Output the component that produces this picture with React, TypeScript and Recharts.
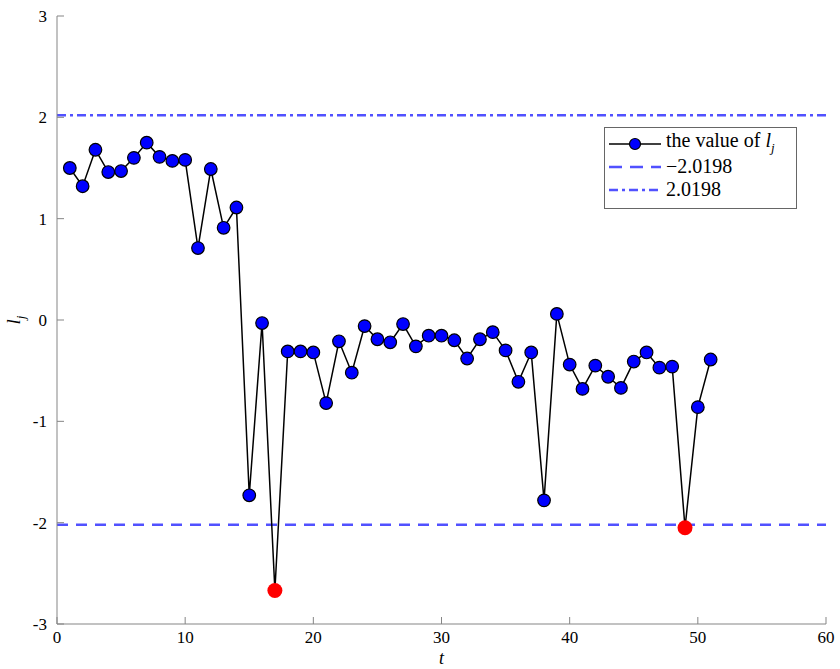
import {
  ComposedChart,
  Legend,
  Line,
  ReferenceLine,
  XAxis,
  YAxis,
} from "recharts";

// statistic l_j for each time step t = 1..51
const T_VALUES = [
  1, 2, 3, 4, 5, 6, 7, 8, 9, 10, 11, 12, 13, 14, 15, 16, 17, 18, 19, 20, 21,
  22, 23, 24, 25, 26, 27, 28, 29, 30, 31, 32, 33, 34, 35, 36, 37, 38, 39, 40,
  41, 42, 43, 44, 45, 46, 47, 48, 49, 50, 51,
];
const L_VALUES = [
  1.5, 1.32, 1.68, 1.46, 1.47, 1.6, 1.75, 1.61, 1.57, 1.58, 0.71, 1.49, 0.91,
  1.11, -1.73, -0.03, -2.67, -0.31, -0.31, -0.32, -0.82, -0.21, -0.52, -0.06,
  -0.19, -0.22, -0.04, -0.26, -0.155, -0.155, -0.2, -0.38, -0.19, -0.12, -0.3,
  -0.61, -0.32, -1.78, 0.06, -0.44, -0.68, -0.45, -0.56, -0.67, -0.41, -0.32,
  -0.47, -0.46, -2.05, -0.86, -0.39,
];
const LOWER = -2.0198;
const UPPER = 2.0198;

const X_TICKS = [0, 10, 20, 30, 40, 50, 60];
const Y_TICKS = [-3, -2, -1, 0, 1, 2, 3];

const data = T_VALUES.map((t, i) => ({ t, l: L_VALUES[i] }));

const FONT = '"Liberation Serif", "Times New Roman", serif';
const AXIS_COLOR = "#858585";
const BAND_COLOR = "rgba(50, 50, 255, 0.85)";
const TICK = {
  fill: "#000",
  fontSize: 17,
  fontFamily: FONT,
  style: { fontFamily: FONT },
} as const;

function Dot(props: any) {
  const { cx, cy, payload, index } = props;
  if (cx == null || cy == null) return null;
  const out = payload.l < LOWER || payload.l > UPPER;
  if (out) {
    return <circle key={index} cx={cx} cy={cy} r={7.5} fill="#ff0000" />;
  }
  return (
    <circle
      key={index}
      cx={cx}
      cy={cy}
      r={6.3}
      fill="#0000ff"
      stroke="#000"
      strokeWidth={1.2}
    />
  );
}

function LegendBox() {
  const row = { display: "flex", alignItems: "center", height: 23 } as const;
  return (
    <div
      style={{
        border: "1px solid #666",
        background: "#fff",
        width: 193,
        height: 82,
        boxSizing: "border-box",
        padding: "4px 0 0 4px",
        fontFamily: FONT,
        fontSize: 20,
        color: "#000",
        lineHeight: "23px",
      }}
    >
      <div style={row}>
        <svg width={52} height={14}>
          <line x1={0} y1={7} x2={52} y2={7} stroke="#000" strokeWidth={1.5} />
          <circle cx={26} cy={7} r={5.5} fill="#0000ff" stroke="#000" strokeWidth={1.2} />
        </svg>
        <span style={{ marginLeft: 5 }}>
          the value of <i>l</i>
          <sub style={{ fontSize: 13, fontStyle: "italic" }}>j</sub>
        </span>
      </div>
      <div style={row}>
        <svg width={52} height={14}>
          <line
            x1={0}
            y1={7}
            x2={52}
            y2={7}
            stroke={BAND_COLOR}
            strokeWidth={2.5}
            strokeDasharray="13 8"
          />
        </svg>
        <span style={{ marginLeft: 5 }}>−2.0198</span>
      </div>
      <div style={row}>
        <svg width={52} height={14}>
          <line
            x1={0}
            y1={7}
            x2={52}
            y2={7}
            stroke={BAND_COLOR}
            strokeWidth={2.5}
            strokeDasharray="9 4 3 4"
          />
        </svg>
        <span style={{ marginLeft: 5 }}>2.0198</span>
      </div>
    </div>
  );
}

function YLabel(props: any) {
  const { viewBox } = props;
  const cy = viewBox.y + viewBox.height / 2;
  return (
    <text
      x={20}
      y={cy}
      transform={`rotate(-90, 20, ${cy})`}
      textAnchor="middle"
      style={{ fontFamily: FONT }}
      fontSize={19}
      fontStyle="italic"
    >
      l<tspan fontSize={13} dy={5}>j</tspan>
    </text>
  );
}

export default function App() {
  return (
    <div
      style={{
        position: "absolute",
        left: 0,
        top: 0,
        background: "#fff",
        fontFamily: FONT,
      }}
    >
      <ComposedChart
        width={840}
        height={669}
        data={data}
        margin={{ top: 16, right: 14, bottom: 0, left: 17 }}
      >
        <XAxis
          xAxisId="b"
          dataKey="t"
          type="number"
          domain={[0, 60]}
          ticks={X_TICKS}
          tick={TICK}
          tickSize={-7}
          tickMargin={14}
          height={45}
          stroke={AXIS_COLOR}
          label={{
            value: "t",
            position: "insideBottom",
            offset: 5,
            style: { fontFamily: FONT, fontSize: 18, fontStyle: "italic", fill: "#000" },
          }}
        />
        <XAxis
          xAxisId="top"
          orientation="top"
          dataKey="t"
          type="number"
          domain={[0, 60]}
          ticks={X_TICKS}
          tickFormatter={() => ""}
          tickSize={-7}
          height={0}
          stroke={AXIS_COLOR}
        />
        <YAxis
          yAxisId="l"
          type="number"
          domain={[-3, 3]}
          ticks={Y_TICKS}
          tick={TICK}
          tickSize={-7}
          tickMargin={17}
          width={40}
          stroke={AXIS_COLOR}
          label={<YLabel />}
        />
        <YAxis
          yAxisId="r"
          orientation="right"
          type="number"
          domain={[-3, 3]}
          ticks={Y_TICKS}
          tickFormatter={() => ""}
          tickSize={-7}
          width={0}
          stroke={AXIS_COLOR}
        />
        <ReferenceLine
          xAxisId="b"
          yAxisId="l"
          y={LOWER}
          stroke={BAND_COLOR}
          strokeWidth={2.5}
          strokeDasharray="11 8"
        />
        <ReferenceLine
          xAxisId="b"
          yAxisId="l"
          y={UPPER}
          stroke={BAND_COLOR}
          strokeWidth={2.5}
          strokeDasharray="9 4 3 4"
        />
        <Line
          xAxisId="b"
          yAxisId="l"
          dataKey="l"
          type="linear"
          stroke="#000"
          strokeWidth={1.5}
          dot={Dot}
          activeDot={false}
          isAnimationActive={false}
        />
        <Legend
          layout="horizontal"
          verticalAlign="middle"
          align="center"
          wrapperStyle={{ left: 604, top: 127, right: "auto", width: 193 }}
          content={() => <LegendBox />}
        />
      </ComposedChart>
    </div>
  );
}
